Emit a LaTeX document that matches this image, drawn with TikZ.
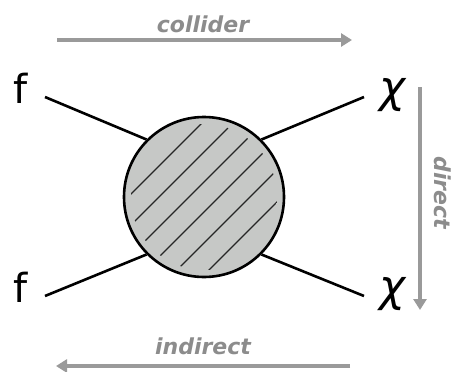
\documentclass[tikz,border=0pt]{standalone}
\usepackage{fontspec}
\setmainfont{DejaVu Sans}
\usetikzlibrary{arrows.meta}
\definecolor{arrgray}{HTML}{9A9A9A}
\definecolor{txtgray}{HTML}{8C8C8C}
\definecolor{blobfill}{HTML}{C6C8C6}
\tikzset{
  leg/.style={line width=2.6pt, black},
  procarrow/.style={line width=3.6pt, arrgray, -{Triangle[length=11pt,width=13pt]}},
  proclabel/.style={txtgray, font=\fontsize{22}{22}\selectfont\bfseries\itshape, inner sep=0pt},
  fermion/.style={font=\fontsize{40}{40}\selectfont, inner sep=0pt},
  dm/.style={font=\fontsize{44}{44}\selectfont\itshape, inner sep=0pt},
  hatch/.style={line width=1.3pt, black!85}
}
\begin{document}
\begin{tikzpicture}[x={(1pt,0)}, y={(0,-1pt)}]
\useasboundingbox (0,0) rectangle (455,372);
% blob
\node[circle, draw, line width=2.6pt, fill=blobfill, minimum size=160pt, inner sep=0pt] (blob) at (204,197) {};
\begin{scope}
  \clip (204,197) circle (73pt);
  \foreach \c in {-76,-45,-15,15,46,78} {
    \draw[hatch] (104,297+\c) -- (304,97+\c);
  }
\end{scope}
% particles
\node[fermion] (f1) at (21,88) {f};
\node[fermion] (f2) at (21,287) {f};
\node[dm] (x1) at (393,95) {χ};
\node[dm] (x2) at (393,294) {χ};
\coordinate (p1) at (45,97);
\coordinate (p2) at (45,296);
\coordinate (p3) at (364,97);
\coordinate (p4) at (364,296);
\draw[leg] (p1) -- (blob.135);
\draw[leg] (p2) -- (blob.225);
\draw[leg] (p3) -- (blob.45);
\draw[leg] (p4) -- (blob.315);
% process arrows
\coordinate (c1) at (57,40);
\coordinate (c2) at (352,40);
\coordinate (d1) at (420,87);
\coordinate (d2) at (420,310);
\coordinate (i1) at (350,366);
\coordinate (i2) at (56,366);
\draw[procarrow] (c1) -- (c2);
\draw[procarrow] (d1) -- (d2);
\draw[procarrow] (i1) -- (i2);
\node[proclabel] (lc) at (203,24) {collider};
\node[proclabel] (li) at (203,346) {indirect};
\node[proclabel, rotate=-90] (ld) at (443,193) {direct};
\end{tikzpicture}
\end{document}
